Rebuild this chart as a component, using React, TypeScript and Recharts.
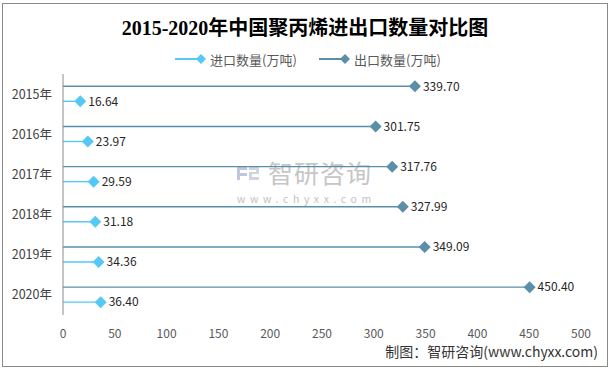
import React from 'react';
import { BarChart, Bar, XAxis, YAxis, LabelList } from 'recharts';

const years = ['2015年', '2016年', '2017年', '2018年', '2019年', '2020年'];
const importVals = [16.64, 23.97, 29.59, 31.18, 34.36, 36.4];
const exportVals = [339.7, 301.75, 317.76, 327.99, 349.09, 450.4];
const xTicks = [0, 50, 100, 150, 200, 250, 300, 350, 400, 450, 500];

const title = '2015-2020年中国聚丙烯进出口数量对比图';
const importName = '进口数量(万吨)';
const exportName = '出口数量(万吨)';
const sourceText = '制图：智研咨询(www.chyxx.com)';

const IMPORT_COLOR = '#55c8f5';
const EXPORT_COLOR = '#5a8ea9';
const FONT = "'Noto Sans CJK SC', 'Noto Sans', sans-serif";

const data = years.map((y, i) => ({ year: y, imp: importVals[i], exp: exportVals[i] }));

const makeShape = (color: string) => (props: any) => {
  const { x, y, width, height } = props;
  const cy = y + height / 2;
  const ex = x + width;
  const r = 6;
  return (
    <g>
      <line x1={x} y1={cy} x2={ex} y2={cy} stroke={color} strokeWidth={1.4} />
      <polygon
        points={`${ex},${cy - r} ${ex + r},${cy} ${ex},${cy + r} ${ex - r},${cy}`}
        fill={color}
      />
    </g>
  );
};

const fmt = (v: any) => Number(v).toFixed(2);

export default function App() {
  return (
    <div style={{ position: 'fixed', left: 0, top: 0, width: 611, height: 371, background: '#fff' }}>
      <div
        style={{
          position: 'absolute',
          left: 2,
          top: 3,
          width: 606,
          height: 364,
          border: '1px solid #8a8a8a',
          boxSizing: 'border-box',
        }}
      />
      <svg
        width={611}
        height={371}
        style={{ position: 'absolute', left: 0, top: 0, pointerEvents: 'none' }}
      >
        {/* watermark */}
        <g opacity={0.9}>
          <path d="M237 167 h10 v3 h-7 v3 h7 v3 h-7 v4 h-3 z" fill="#b7c3d6" />
          <path d="M249 167 h10 v7 h-7 v3 h7 v3 h-10 v-8 h7 v-2 h-7 z" fill="#c9d1de" />
        </g>
        <text x={268} y={172} fontSize={25} fill="#c6c6c6" fontFamily={FONT} dominantBaseline="central" letterSpacing={1}>
          智研咨询
        </text>
        <text x={237} y={198} fontSize={10.5} fill="#c2c2c2" fontFamily={FONT} letterSpacing={4.6} dominantBaseline="central">
          www.chyxx.com
        </text>
      </svg>
      <div style={{ position: 'absolute', left: 0, top: 0 }}>
        <BarChart
          width={611}
          height={371}
          data={data}
          layout="vertical"
          margin={{ top: 74, right: 30, bottom: 26, left: 0 }}
          barCategoryGap="12%"
          barGap={0}
        >
          <XAxis
            type="number"
            domain={[0, 500]}
            ticks={xTicks}
            axisLine={false}
            tickLine={false}
            tickMargin={8}
            height={30}
            tick={{ fontSize: 12, fill: '#595959', fontFamily: FONT }}
            interval={0}
          />
          <YAxis
            type="category"
            dataKey="year"
            width={63}
            axisLine={{ stroke: '#8c8c8c', strokeWidth: 1 }}
            tickLine={false}
            tickMargin={5}
            tick={{ fontSize: 12.5, fill: '#404040', fontFamily: FONT }}
            interval={0}
          />
          <Bar dataKey="exp" isAnimationActive={false} shape={makeShape(EXPORT_COLOR)}>
            <LabelList
              dataKey="exp"
              position="right"
              offset={8}
              formatter={fmt}
              style={{ fontSize: 12, fill: '#262626', fontFamily: FONT }}
            />
          </Bar>
          <Bar dataKey="imp" isAnimationActive={false} shape={makeShape(IMPORT_COLOR)}>
            <LabelList
              dataKey="imp"
              position="right"
              offset={8}
              formatter={fmt}
              style={{ fontSize: 12, fill: '#262626', fontFamily: FONT }}
            />
          </Bar>
        </BarChart>
      </div>
      <svg
        width={611}
        height={371}
        style={{ position: 'absolute', left: 0, top: 0, pointerEvents: 'none' }}
      >
        <text
          x={305}
          y={28}
          textAnchor="middle"
          dominantBaseline="central"
          fontSize={20}
          fontWeight="bold"
          fill="#000"
          fontFamily="'Liberation Serif', 'Noto Sans CJK SC', serif"
        >
          {title}
        </text>
        <line x1={175} y1={59} x2={197} y2={59} stroke={IMPORT_COLOR} strokeWidth={2} />
        <polygon points="201,54 206,59 201,64 196,59" fill={IMPORT_COLOR} />
        <text x={210} y={59} fontSize={13} fill="#595959" fontFamily={FONT} dominantBaseline="central">
          {importName}
        </text>
        <line x1={319} y1={59} x2={341} y2={59} stroke={EXPORT_COLOR} strokeWidth={2} />
        <polygon points="345,54 350,59 345,64 340,59" fill={EXPORT_COLOR} />
        <text x={354} y={59} fontSize={13} fill="#595959" fontFamily={FONT} dominantBaseline="central">
          {exportName}
        </text>
        <text
          x={598}
          y={351}
          textAnchor="end"
          dominantBaseline="central"
          fontSize={14}
          fill="#333"
          fontFamily={FONT}
        >
          {sourceText}
        </text>
      </svg>
    </div>
  );
}
